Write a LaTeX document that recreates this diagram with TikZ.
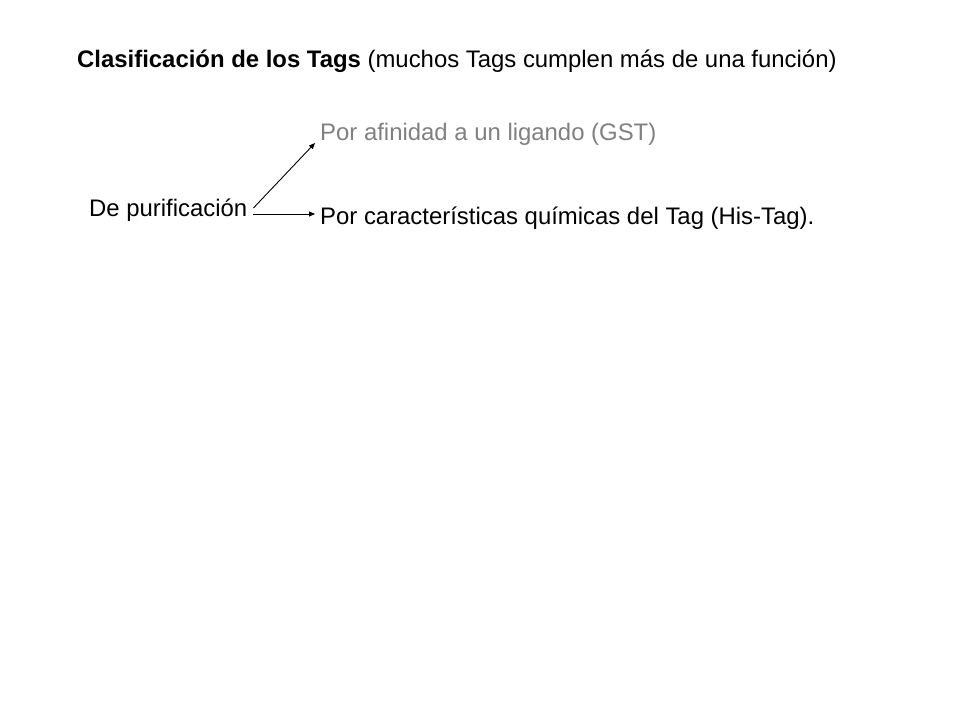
\documentclass[tikz,border=0pt]{standalone}
\usepackage{fontspec}
\setmainfont{Liberation Sans}
\usetikzlibrary{arrows.meta, positioning}
\definecolor{lightgrey}{RGB}{128,128,128}
\tikzset{
  txt/.style={anchor=base west, inner sep=0pt, font=\fontsize{23.9}{28}\selectfont},
  link/.style={-{Triangle[length=6pt, width=5pt]}, line width=0.9pt}
}
\begin{document}
\begin{tikzpicture}[x=1pt, y=1pt]
  \useasboundingbox (0,0) rectangle (960,720);
  % title
  \node [txt] (title) at (77,652) {\textbf{Clasificación de los Tags} (muchos Tags cumplen más de una función)};

  % branches
  \node [txt] (purif) at (89,503) {De purificación};
  \node [txt, text=lightgrey] (afin) at (320,579) {Por afinidad a un ligando (GST)};
  \node [txt] (quim) at (320,495) {Por características químicas del Tag (His-Tag).};

  \draw[link] ([xshift=6pt, yshift=9pt]purif.base east) -- ([xshift=-5pt, yshift=-2pt]afin.base west);
  \draw[link] ([xshift=6pt, yshift=3pt]purif.base east) -- ([xshift=-5pt, yshift=11pt]quim.base west);
\end{tikzpicture}
\end{document}
